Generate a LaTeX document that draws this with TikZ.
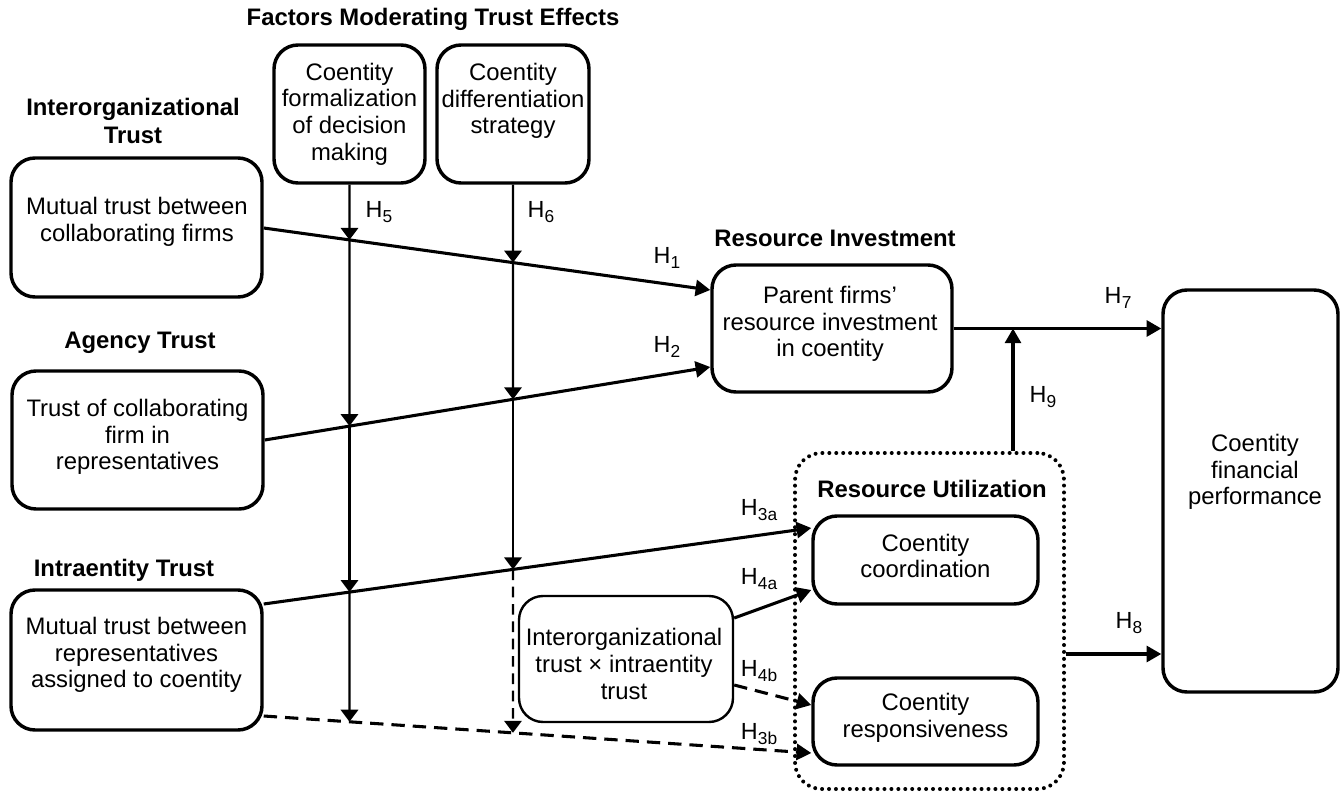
\documentclass[tikz,border=0pt]{standalone}
\usepackage{fontspec}
\setmainfont{Liberation Sans}
\usetikzlibrary{arrows.meta,calc}
\newcommand\Hyp[1]{H\kern0.2pt\raisebox{-4pt}{\fontsize{13}{13}\selectfont #1}}
\begin{document}
\begin{tikzpicture}[x=0.75pt,y=-0.75pt,
  rbox/.style={draw, line width=2.6pt, rounded corners=18pt, inner sep=0pt},
  txt/.style={align=center, font=\fontsize{17.9}{20}\selectfont, inner sep=0pt},
  ttl/.style={align=center, font=\fontsize{17.9}{21}\selectfont\bfseries, inner sep=0pt},
  hlab/.style={font=\fontsize{17.5}{20}\selectfont, inner sep=0pt},
  conn/.style={line width=2.3pt, -{Triangle[length=11pt,width=12pt]}},
  modarr/.style={line width=1.8pt, -{Triangle[length=9pt,width=13pt]}},
  dsh/.style={dash pattern=on 10pt off 6pt},
  dotbox/.style={draw, dash pattern=on 0pt off 5.2pt, line cap=round, line width=3pt, rounded corners=20pt, inner sep=0pt}
]
\useasboundingbox (0,0) rectangle (1343,795);

% boxes
\node[rbox, minimum width=188.25pt, minimum height=104.25pt] (collab) at (136.5,227.5) {};
\node[rbox, minimum width=188.25pt, minimum height=103.5pt] (agency) at (137.5,440) {};
\node[rbox, minimum width=188.25pt, minimum height=105pt] (intra) at (136.5,660) {};
\node[rbox, minimum width=113.25pt, minimum height=103.5pt] (formal) at (349.5,114) {};
\node[rbox, minimum width=114pt, minimum height=103.5pt] (diff) at (513,114) {};
\node[rbox, minimum width=180pt, minimum height=95.25pt] (invest) at (832,328.5) {};
\node[rbox, minimum width=168.75pt, minimum height=66pt] (coord) at (925.5,560) {};
\node[rbox, minimum width=168.75pt, minimum height=65.25pt] (resp) at (925.5,721.5) {};
\node[rbox, minimum width=131.25pt, minimum height=301.5pt] (perf) at (1250.5,491) {};
\node[rbox, line width=1.8pt, minimum width=160.5pt, minimum height=94.5pt] (inter) at (626,659) {};
\node[dotbox, minimum width=201.75pt, minimum height=252pt] (util) at (929.5,621) {};

% box texts
\node[txt] (collab-t) at (137,221.5) {Mutual trust between\\collaborating firms};
\node[txt] (agency-t) at (137.5,437) {Trust of collaborating\\firm in\\representatives};
\node[txt] (intra-t) at (136.5,655) {Mutual trust between\\representatives\\assigned to coentity};
\node[txt] (formal-t) at (349.5,114) {Coentity\\formalization\\of decision\\making};
\node[txt] (diff-t) at (513,101) {Coentity\\differentiation\\strategy};
\node[txt] (invest-t) at (830,324) {Parent firms'\\resource investment\\in coentity};
\node[txt] (coord-t) at (925.5,556) {Coentity\\coordination};
\node[txt] (resp-t) at (925.5,718) {Coentity\\responsiveness};
\node[txt] (perf-t) at (1255,472) {Coentity\\financial\\performance};
\node[txt] (inter-t) at (624,664) {Interorganizational\\trust × intraentity\\trust};

% titles
\node[ttl] (t-fac) at (433,19) {Factors Moderating Trust Effects};
\node[ttl] (t-inter) at (133,121) {Interorganizational\\Trust};
\node[ttl] (t-agency) at (140,343) {Agency Trust};
\node[ttl] (t-intra) at (124,570) {Intraentity Trust};
\node[ttl] (t-invest) at (835,238) {Resource Investment};
\node[ttl] (t-util) at (932,489) {Resource Utilization};

% connector end points
\coordinate (h1s) at (collab.east |- 0,228);
\coordinate (h1e) at (invest.west |- 0,290);
\coordinate (h2s) at (agency.east |- 0,440);
\coordinate (h2e) at (invest.west |- 0,367);
\coordinate (h3as) at (intra.east |- 0,604);
\coordinate (h3ae) at (coord.west |- 0,528);
\coordinate (h3bs) at (intra.east |- 0,716);
\coordinate (h3be) at (resp.west |- 0,753);
\coordinate (h4as) at (inter.east |- 0,618);
\coordinate (h4ae) at (coord.west |- 0,590);
\coordinate (h4bs) at (inter.east |- 0,685);
\coordinate (h4be) at (resp.west |- 0,705);
\coordinate (h8s) at (util.east |- 0,654);
\coordinate (h8e) at (perf.west |- 0,654);
\coordinate (h9s) at (1013,0 |- util.north);
\coordinate (h9e) at (1013,0 |- invest.east);

% main connectors
\draw[conn] (h1s) -- (h1e);
\draw[conn] (h2s) -- (h2e);
\draw[conn] (h3as) -- (h3ae);
\draw[conn,dsh] (h3bs) -- (h3be);
\draw[conn] (h4as) -- (h4ae);
\draw[conn,dsh] (h4bs) -- (h4be);
\draw[conn] (invest.east) -- (perf.west |- invest.east);
\draw[conn] (h8s) -- (h8e);
\draw[conn] (h9s) -- (h9e);

% moderator crossings
\coordinate (fb) at (349.5,800);
\coordinate (db) at (513,800);
\coordinate (i1) at (intersection of h1s--h1e and formal.south--fb);
\coordinate (i2) at (intersection of h2s--h2e and formal.south--fb);
\coordinate (i3) at (intersection of h3as--h3ae and formal.south--fb);
\coordinate (i4) at (intersection of h3bs--h3be and formal.south--fb);
\coordinate (j1) at (intersection of h1s--h1e and diff.south--db);
\coordinate (j2) at (intersection of h2s--h2e and diff.south--db);
\coordinate (j3) at (intersection of h3as--h3ae and diff.south--db);
\coordinate (j4) at (intersection of h3bs--h3be and diff.south--db);

\draw[modarr] (formal.south) -- (i1);
\draw[modarr] (i1) -- (i2);
\draw[modarr] (i2) -- (i3);
\draw[modarr] (i3) -- (i4);
\draw[modarr] (diff.south) -- (j1);
\draw[modarr] (j1) -- (j2);
\draw[modarr] (j2) -- (j3);
\draw[modarr,dash pattern=on 8pt off 5pt] (j3) -- (j4);

% hypothesis labels
\node[hlab] (l5) at (379,212) {\Hyp{5}};
\node[hlab] (l6) at (541,212) {\Hyp{6}};
\node[hlab] (l1) at (667,258) {\Hyp{1}};
\node[hlab] (l2) at (667,347) {\Hyp{2}};
\node[hlab] (l7) at (1118,298) {\Hyp{7}};
\node[hlab] (l9) at (1043,397) {\Hyp{9}};
\node[hlab] (l8) at (1129,623) {\Hyp{8}};
\node[hlab] (l3a) at (759,510) {\Hyp{3a}};
\node[hlab] (l4a) at (759,579) {\Hyp{4a}};
\node[hlab] (l4b) at (759,671) {\Hyp{4b}};
\node[hlab] (l3b) at (759,734) {\Hyp{3b}};
\end{tikzpicture}
\end{document}
